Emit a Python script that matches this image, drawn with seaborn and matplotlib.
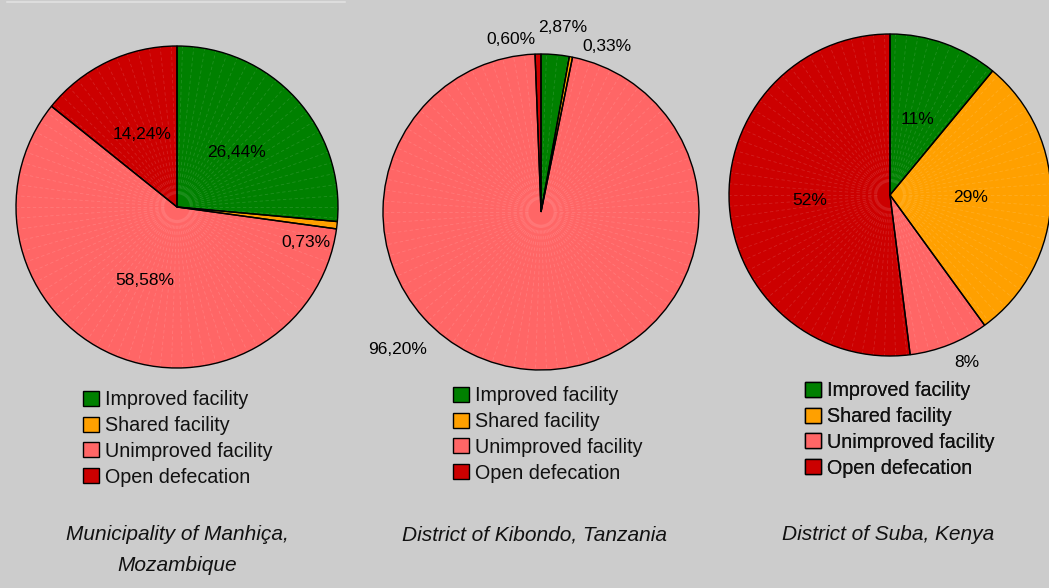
import numpy as np
import matplotlib
matplotlib.use('Agg')
import matplotlib.pyplot as plt
import seaborn as sns
from matplotlib.patches import Patch

# categories and values (percent, clockwise from 12 o'clock)
categories = ['Improved facility', 'Shared facility', 'Unimproved facility', 'Open defecation']
manhica = [26.44, 0.73, 58.58, 14.24]
kibondo = [2.87, 0.33, 96.20, 0.60]
suba = [11, 29, 8, 52]
manhica_labels = ['26,44%', '0,73%', '58,58%', '14,24%']
kibondo_labels = ['2,87%', '0,33%', '96,20%', '0,60%']
suba_labels = ['11%', '29%', '8%', '52%']
titles = ['Municipality of Manhiça,\nMozambique', 'District of Kibondo, Tanzania', 'District of Suba, Kenya']

colors = sns.color_palette(['#008000', '#FFA000', '#FF6666', '#CC0000'])

sns.set_theme(style='white', rc={'figure.facecolor': '#CCCCCC', 'axes.facecolor': '#CCCCCC'})
plt.rcParams['font.family'] = ['Liberation Sans', 'DejaVu Sans']

W, H = 1049, 588
fig = plt.figure(figsize=(W / 100, H / 100), dpi=100)
ax = fig.add_axes([0, 0, 1, 1])

# pie layout in pixels: center x, center y (from top), radius
layout = [(177, 207, 161), (541, 212, 158), (890, 195, 161)]
# label placement: None = inside at half radius, else (dx, dy) in radius units
label_pos = [
    [None, (0.80, -0.22), None, None],
    [(0.14, 1.17), (0.42, 1.05), (-0.91, -0.87), (-0.19, 1.09)],
    [None, None, (0.48, -1.04), None],
]
legend_xy = [(83, 390), (453, 386), (805, 381)]
title_xy = [(177, 550), (535, 535), (888, 535)]

pies = [(manhica, manhica_labels), (kibondo, kibondo_labels), (suba, suba_labels)]

for i, (vals, labs) in enumerate(pies):
    cx, cy, r = layout[i]
    center = (cx, H - cy)
    wedges, _ = ax.pie(vals, colors=colors, startangle=90, counterclock=False,
                       center=center, radius=r,
                       wedgeprops=dict(edgecolor='none', linewidth=0, zorder=1))
    # faint radial shading lines like the original rendering
    for a in np.arange(0, 360, 4.0):
        t = np.deg2rad(a)
        ax.plot([center[0] + 0.08 * r * np.cos(t), center[0] + r * np.cos(t)],
                [center[1] + 0.08 * r * np.sin(t), center[1] + r * np.sin(t)],
                color='white', alpha=0.13, lw=0.6, ls=(0, (4, 3)), zorder=2)
    # wedge outlines on top of the shading
    ax.pie(vals, startangle=90, counterclock=False, center=center, radius=r,
           wedgeprops=dict(facecolor='none', edgecolor='black', linewidth=1.0, zorder=3))
    for w, lab, pos in zip(wedges, labs, label_pos[i]):
        if pos is None:
            mid = np.deg2rad((w.theta1 + w.theta2) / 2)
            x = center[0] + 0.5 * r * np.cos(mid)
            y = center[1] + 0.5 * r * np.sin(mid)
        else:
            x = center[0] + pos[0] * r
            y = center[1] + pos[1] * r
        ax.text(x, y, lab, ha='center', va='center', fontsize=12.5, color='black', zorder=4)

    handles = [Patch(facecolor=c, edgecolor='black', lw=1.0) for c in colors]
    lx, ly = legend_xy[i]
    leg = ax.legend(handles, categories, loc='upper left', bbox_to_anchor=(lx, H - ly),
                    bbox_transform=ax.transData, frameon=False, fontsize=14.2,
                    handlelength=0.8, handleheight=0.8, handletextpad=0.3,
                    labelspacing=0.35, borderpad=0, borderaxespad=0)
    for t in leg.get_texts():
        t.set_color('#111111')
    ax.add_artist(leg)

    tx, ty = title_xy[i]
    ax.text(tx, H - ty, titles[i], ha='center', va='center', fontsize=15,
            style='italic', color='#111111', linespacing=1.75)

ax.plot([7, 345], [H - 1.5, H - 1.5], color='#DDDDDD', lw=1.5)

ax.set_xlim(0, W)
ax.set_ylim(0, H)
ax.set_aspect('equal')
ax.axis('off')

fig.savefig('out.png', dpi=100, facecolor=fig.get_facecolor())
